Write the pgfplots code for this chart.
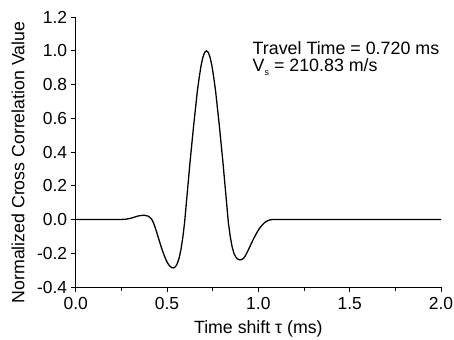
\documentclass[border=0pt]{standalone}
\usepackage{fontspec}
\setmainfont{Liberation Sans}
\usepackage{pgfplots}
\pgfplotsset{compat=1.18}
\begin{document}
\begin{tikzpicture}
\begin{axis}[
  at={(0,0)}, anchor=south west,
  scale only axis, width=365.3bp, height=270bp,
  xmin=0, xmax=2, ymin=-0.4, ymax=1.2,
  axis x line*=bottom, axis y line*=left,
  axis line style={-, line width=0.8pt, black},
  xtick={0,0.5,1,1.5,2}, xticklabels={0.0,0.5,1.0,1.5,2.0},
  minor xtick={0.25,0.75,1.25,1.75},
  ytick={-0.4,-0.2,0,0.2,0.4,0.6,0.8,1.0,1.2},
  yticklabels={-0.4,-0.2,0.0,0.2,0.4,0.6,0.8,1.0,1.2},
  tick align=outside, major tick length=5bp, minor tick length=4bp,
  every tick/.style={line width=0.8pt, black},
  ticklabel style={font=\fontsize{17.5}{20}\selectfont},
  xticklabel style={yshift=-2bp},
  xlabel={Time shift τ (ms)},
  ylabel={Normalized Cross Correlation Value},
  every axis x label/.style={at={(axis description cs:0.5,0)}, yshift=-42bp, anchor=center, font=\fontsize{17.8}{21}\selectfont},
  every axis y label/.style={at={(axis description cs:-0.158,0.461)}, rotate=90, anchor=center, font=\fontsize{17.8}{21}\selectfont},
]
\addplot[black, line width=1.3pt] coordinates {
(0.000,0) (0.100,0) (0.200,0) (0.220,0) (0.256,0.0005) (0.276,0.002) (0.296,0.006)
(0.316,0.012) (0.336,0.019) (0.356,0.024) (0.376,0.025) (0.396,0.020) (0.406,0.013)
(0.416,0.002) (0.426,-0.020) (0.436,-0.050) (0.446,-0.085) (0.456,-0.120) (0.466,-0.155)
(0.476,-0.188) (0.486,-0.217) (0.496,-0.243) (0.506,-0.263) (0.516,-0.277) (0.526,-0.285)
(0.536,-0.287) (0.546,-0.280) (0.556,-0.262) (0.566,-0.230) (0.576,-0.180) (0.586,-0.110)
(0.596,-0.020) (0.606,0.100) (0.616,0.220) (0.626,0.340) (0.636,0.450) (0.646,0.560)
(0.656,0.660) (0.666,0.760) (0.676,0.840) (0.686,0.910) (0.696,0.960) (0.706,0.990)
(0.716,1.000) (0.726,0.990) (0.736,0.960) (0.746,0.910) (0.756,0.840) (0.766,0.760)
(0.776,0.660) (0.786,0.560) (0.796,0.450) (0.806,0.340) (0.816,0.220) (0.826,0.100)
(0.836,-0.020) (0.846,-0.100) (0.856,-0.160) (0.866,-0.200) (0.876,-0.222) (0.886,-0.234)
(0.896,-0.239) (0.906,-0.238) (0.916,-0.233) (0.926,-0.220) (0.936,-0.200) (0.946,-0.178)
(0.956,-0.155) (0.966,-0.132) (0.976,-0.110) (0.986,-0.089) (0.996,-0.070) (1.006,-0.053)
(1.016,-0.039) (1.026,-0.027) (1.036,-0.017) (1.046,-0.010) (1.056,-0.005) (1.066,-0.002)
(1.080,0) (1.200,0) (1.500,0) (2.000,0)
};
\node[anchor=base west, inner sep=0pt, font=\fontsize{17.9}{21}\selectfont] at (axis cs:0.968,0.978) {Travel Time = 0.720 ms};
\node[anchor=base west, inner sep=0pt, font=\fontsize{17.9}{21}\selectfont] at (axis cs:0.968,0.879) {V\raisebox{-0.45ex}{\fontsize{9}{9}\selectfont s} = 210.83 m/s};
\end{axis}
\pgfresetboundingbox
\path (-75.7bp,-53bp) rectangle (378.3bp,287bp);
\end{tikzpicture}
\end{document}
